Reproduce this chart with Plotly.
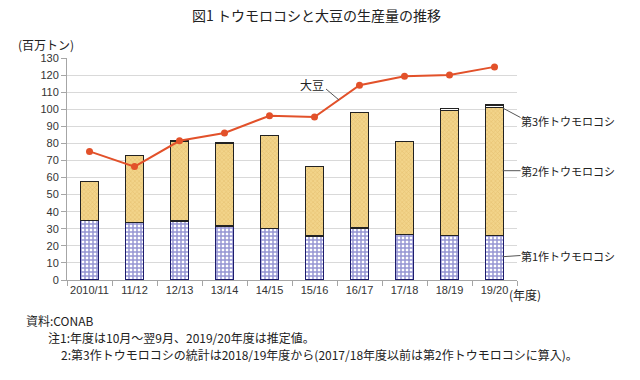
import plotly.graph_objects as go

categories = ["2010/11", "11/12", "12/13", "13/14", "14/15", "15/16", "16/17", "17/18", "18/19", "19/20"]
corn_1st = [35.0, 33.9, 34.5, 31.6, 30.0, 25.8, 30.5, 26.8, 25.9, 25.9]
corn_2nd = [22.5, 39.1, 46.9, 48.6, 54.7, 40.8, 67.4, 54.2, 73.4, 75.0]
corn_3rd = [None, None, None, None, None, None, None, None, 1.0, 1.6]
soybean = [75.3, 66.4, 81.5, 86.1, 96.2, 95.4, 114.1, 119.3, 120.0, 124.8]
y_ticks = list(range(0, 131, 10))

W, H = 640, 380
L, R, T, B = 67, 123, 58, 100
PW, PH = W - L - R, H - T - B


def px(x, y):
    return (x - L) / PW, (H - B - y) / PH


JP = "Noto Sans CJK JP, Noto Sans, sans-serif"
fig = go.Figure()
fig.add_bar(
    x=categories, y=corn_1st, name="第1作トウモロコシ", width=0.4,
    marker=dict(color="white", line=dict(color="#1c1c6c", width=1.2),
                pattern=dict(shape="+", fgcolor="#2a2aa6", bgcolor="white", size=4, solidity=0.6)),
)
fig.add_bar(
    x=categories, y=corn_2nd, name="第2作トウモロコシ", width=0.4,
    marker=dict(color="#f0d088", line=dict(color="#222222", width=1.2),
                pattern=dict(shape="x", fgcolor="#d4a850", bgcolor="#f2d48a", size=3, solidity=0.3)),
)
fig.add_bar(
    x=categories, y=corn_3rd, name="第3作トウモロコシ", width=0.4,
    marker=dict(color="white", line=dict(color="#222222", width=1.2)),
)
fig.add_scatter(
    x=categories, y=soybean, name="大豆", mode="lines+markers",
    line=dict(color="#e2512a", width=2), marker=dict(color="#e2512a", size=7),
)

fig.update_layout(
    width=W, height=H, barmode="stack", showlegend=False,
    margin=dict(l=L, r=R, t=T, b=B, autoexpand=False),
    paper_bgcolor="white", plot_bgcolor="white",
    font=dict(family=JP, size=11, color="#333333"),
    xaxis=dict(type="category", range=[-0.5, 9.5], showline=True, linecolor="#a6a6a6",
               ticks="outside", tickson="boundaries", ticklen=5, tickcolor="#a6a6a6",
               tickangle=0, automargin=False,
               tickfont=dict(family="Liberation Sans, Arial, sans-serif", size=11, color="#333333"),
               showgrid=False),
    yaxis=dict(range=[0, 130], tickvals=y_ticks, showline=True, linecolor="#a6a6a6",
               ticks="outside", ticklen=5, tickcolor="#a6a6a6", automargin=False,
               gridcolor="#d9d9d9", gridwidth=1, zeroline=False,
               tickfont=dict(family="Liberation Sans, Arial, sans-serif", size=11, color="#333333")),
)

anns = []


def text(x, y, s, size=12, xanchor="center", color="#222222"):
    px_, py_ = px(x, y)
    anns.append(dict(x=px_, y=py_, xref="paper", yref="paper", text=s, showarrow=False,
                     xanchor=xanchor, yanchor="middle", borderpad=0,
                     font=dict(family=JP, size=size, color=color)))


text(316, 15, "図1 トウモロコシと大豆の生産量の推移", size=14)
text(17, 45, "(百万トン)", size=12, xanchor="left")
text(508, 294, "(年度)", size=12, xanchor="left")
text(312, 84, "大豆", size=12)
text(520, 121, "第3作トウモロコシ", size=11, xanchor="left")
text(520, 171, "第2作トウモロコシ", size=11, xanchor="left")
text(520, 256, "第1作トウモロコシ", size=11, xanchor="left")
text(25, 320, "資料:CONAB", size=12, xanchor="left")
text(47, 337, "注1:年度は10月～翌9月、2019/20年度は推定値。", size=12, xanchor="left")
text(60, 354, "2:第3作トウモロコシの統計は2018/19年度から(2017/18年度以前は第2作トウモロコシに算入)。", size=12, xanchor="left")
fig.update_layout(annotations=anns)

shapes = []
for (x0, y0, x1, y1) in [(502.7, 108, 520.5, 117.5), (502.7, 170.7, 520.5, 170.7),
                         (502.7, 256.7, 520.5, 255.5), (326, 89, 339, 100)]:
    a0, b0 = px(x0, y0)
    a1, b1 = px(x1, y1)
    shapes.append(dict(type="line", xref="paper", yref="paper", x0=a0, y0=b0, x1=a1, y1=b1,
                       line=dict(color="#555555", width=1)))
fig.update_layout(shapes=shapes)

fig.write_html("out.html", config={"displayModeBar": False},
               post_script="document.body.style.margin='0';")
